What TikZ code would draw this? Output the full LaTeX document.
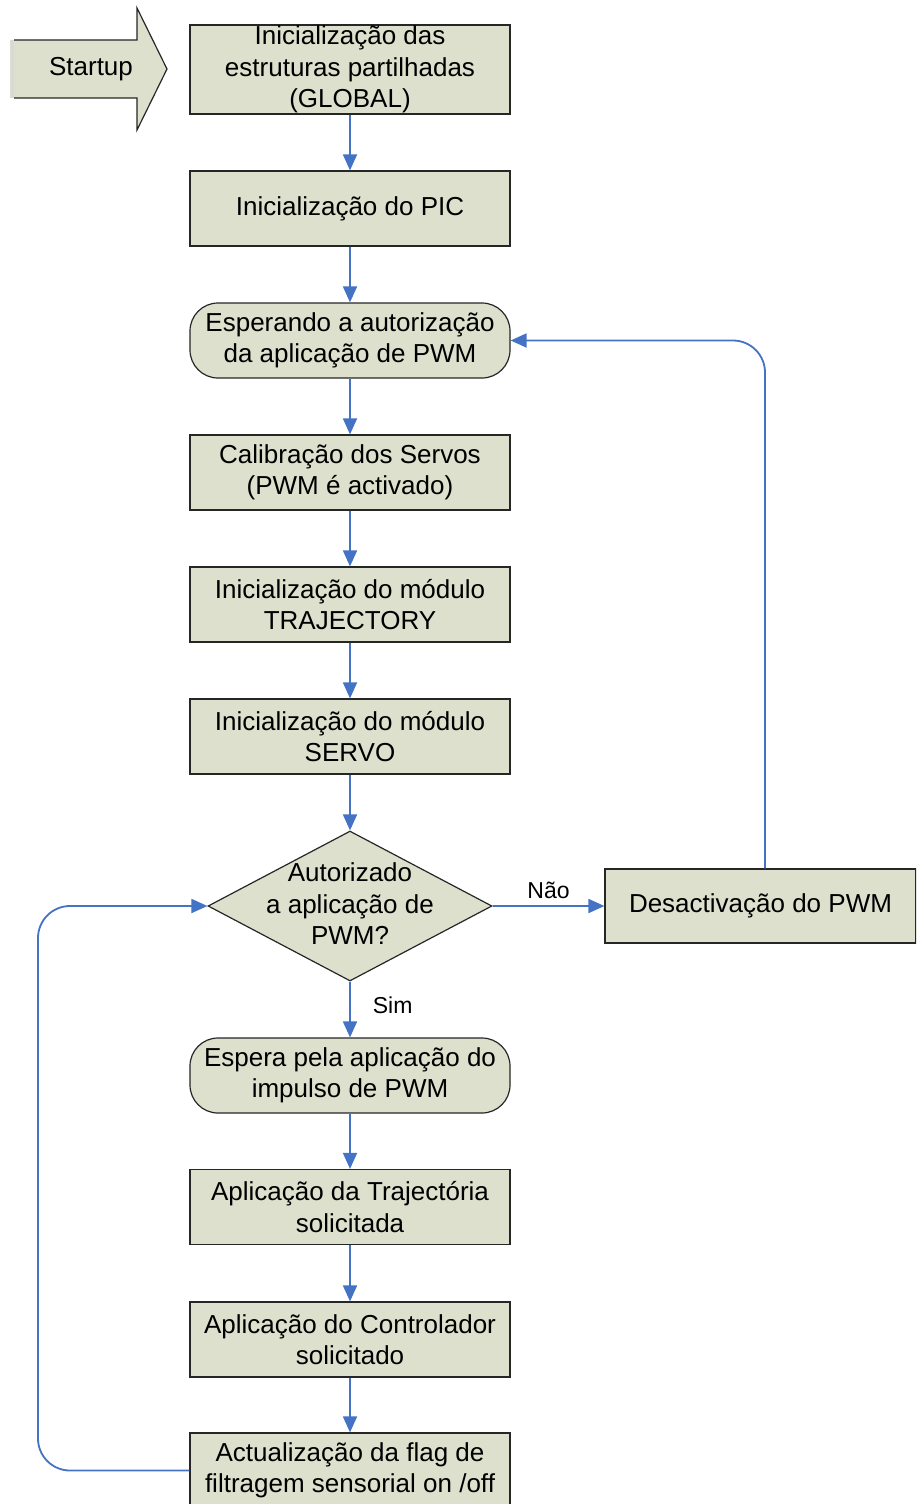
\documentclass[tikz,border=0pt]{standalone}
\usepackage{fontspec}
\setmainfont{Liberation Sans}
\usetikzlibrary{arrows.meta,shapes.geometric}
\definecolor{boxfill}{RGB}{221,224,204}
\definecolor{flowblue}{RGB}{68,114,196}
\tikzset{
  every node/.style={font=\fontsize{26}{31.5}\selectfont, align=center, inner sep=0pt},
  procbox/.style={draw=black!85, line width=1.2pt, fill=boxfill, minimum width=320pt, minimum height=75pt},
  roundbox/.style={procbox, rounded corners=28pt},
  decision/.style={draw=black!85, line width=1.2pt, fill=boxfill, diamond, minimum width=284pt, minimum height=150pt, aspect=1.9},
  flow/.style={draw=flowblue, line width=1.8pt, -{Triangle[length=16pt,width=14pt]}},
  lbl/.style={font=\fontsize{23}{27}\selectfont}
}
\begin{document}
\begin{tikzpicture}[x=1pt,y=-1pt]
\useasboundingbox (0,0) rectangle (916,1504);
\clip (0,0) rectangle (916,1504);
% startup arrow
\fill[boxfill] (10,40) -- (137,40) -- (137,8) -- (167,69) -- (137,130) -- (137,98) -- (10,98) -- cycle;
\draw[black!85, line width=1.2pt] (14,40) -- (137,40) -- (137,8) -- (167,69) -- (137,130) -- (137,98) -- (14,98);
\draw[black!15, line width=3pt] (12,40) -- (12,98);
\node (start) at (91,69) {Startup};

\node[procbox, minimum height=89pt] (n1) at (350,69.5) {Inicialização das\\estruturas partilhadas\\(GLOBAL)};
\node[procbox] (n2) at (350,208.5) {Inicialização do PIC};
\node[roundbox] (n3) at (350,340.5) {Esperando a autorização\\da aplicação de PWM};
\node[procbox] (n4) at (350,472.5) {Calibração dos Servos\\(PWM é activado)};
\node[procbox] (n5) at (350,604.5) {Inicialização do módulo\\TRAJECTORY};
\node[procbox] (n6) at (350,736.5) {Inicialização do módulo\\SERVO};
\node[decision] (d) at (350,906) {};
\node at (350,904) {Autorizado\\a aplicação de\\PWM?};
\node[procbox, minimum width=311pt, minimum height=74pt] (off) at (760.5,906) {Desactivação do PWM};
\node[roundbox] (n7) at (350,1075.5) {Espera pela aplicação do\\impulso de PWM};
\node[procbox] (n8) at (350,1207) {Aplicação da Trajectória\\solicitada};
\node[procbox] (n9) at (350,1339.5) {Aplicação do Controlador\\solicitado};
\node[procbox] (n10) at (350,1470.5) {Actualização da flag de\\filtragem sensorial on /off};

\draw[flow] (n1) -- (n2);
\draw[flow] (n2) -- (n3);
\draw[flow] (n3) -- (n4);
\draw[flow] (n4) -- (n5);
\draw[flow] (n5) -- (n6);
\draw[flow] (n6.south) -- (d.north);
\draw[flow] (d.south) -- node[lbl, right=22pt, pos=0.42] {Sim} (n7.north);
\draw[flow] (d.east) -- node[lbl, above=6pt, pos=0.5] {Não} (off.west);
\draw[flow] (n7) -- (n8);
\draw[flow] (n8) -- (n9);
\draw[flow] (n9) -- (n10);
\draw[flow, rounded corners=32pt] ([xshift=4.5pt]off.north) |- (n3.east);
\draw[flow, rounded corners=32pt] (n10.west) -- (38,1470.5) -- (38,906) -- (d.west);
\end{tikzpicture}
\end{document}
